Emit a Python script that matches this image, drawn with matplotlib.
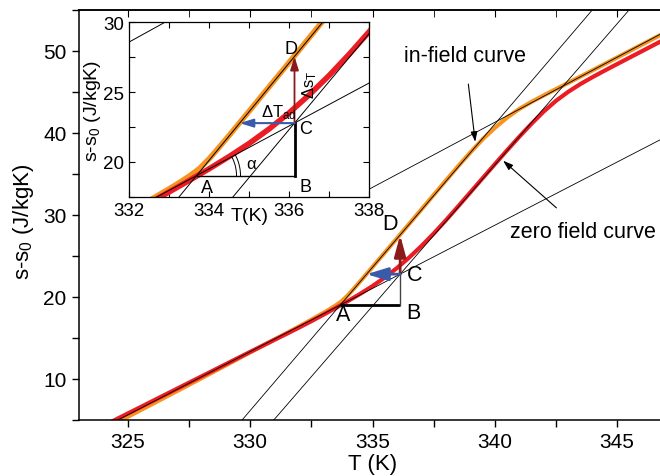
import matplotlib
matplotlib.use("Agg")
import matplotlib.pyplot as plt
import numpy as np
from matplotlib.ticker import MultipleLocator

plt.rcParams['font.family'] = ['Liberation Sans', 'DejaVu Sans']
plt.rcParams['mathtext.fontset'] = 'custom'
plt.rcParams['mathtext.rm'] = 'Liberation Sans'
plt.rcParams['mathtext.it'] = 'Liberation Sans:italic'
plt.rcParams['mathtext.default'] = 'regular'

# ---------------- data ----------------
T_zero = [324.0, 325.0, 326.0, 327.0, 328.0, 329.0, 330.0, 331.0, 331.5, 332.0,
          332.5, 333.0, 333.5, 334.0, 334.5, 335.0, 335.5, 336.0, 336.5, 337.0,
          337.5, 338.0, 338.5, 339.0, 339.5, 340.0, 340.5, 341.0, 341.5, 342.0,
          342.5, 343.0, 343.5, 344.0, 344.5, 345.0, 346.0, 347.0, 348.0]
s_zero = [4.3, 5.8, 7.3, 8.8, 10.3, 11.8, 13.3, 14.78, 15.52, 16.27,
          17.04, 17.84, 18.66, 19.5, 20.38, 21.32, 22.36, 23.52, 24.8, 26.2,
          27.72, 29.34, 31.03, 32.74, 34.46, 36.17, 37.86, 39.51, 41.1, 42.59,
          43.89, 44.99, 45.94, 46.79, 47.59, 48.37, 49.92, 51.47, 53.02]

T_field = [324.0, 325.0, 326.0, 327.0, 328.0, 329.0, 330.0, 331.0, 331.5, 332.0,
           332.5, 333.0, 333.25, 333.5, 333.75, 334.0, 334.25, 334.5, 334.75, 335.0,
           335.5, 336.0, 336.5, 337.0, 337.5, 338.0, 338.5, 339.0, 339.5, 340.0,
           340.5, 341.0, 341.5, 342.0, 342.5, 343.0, 344.0, 345.0, 346.0, 347.0,
           348.0]
s_field = [3.85, 5.4, 6.95, 8.51, 10.08, 11.66, 13.25, 14.82, 15.6, 16.4,
           17.22, 18.06, 18.5, 18.97, 19.5, 20.22, 21.05, 21.9, 22.77, 23.64,
           25.39, 27.14, 28.9, 30.66, 32.42, 34.18, 35.92, 37.6, 39.2, 40.6,
           41.85, 42.9, 43.77, 44.55, 45.32, 46.08, 47.62, 49.17, 50.72, 52.27,
           53.82]

# straight construction lines: (T0, s0, slope); first T drawn in main panel
line_T0 = [333.68, 336.13, 335.31, 333.68]
line_s0 = [19.0, 22.77, 33.84, 19.0]
line_slope = [3.49, 3.44, 1.586, 1.54]
line_Tstart_main = [318.0, 318.0, 334.9, 318.0]

# construction points A, B, C, D and arrow tip
A_T, A_s = 333.68, 19.0
C_T, C_s = 336.13, 22.77
B_T, B_s = C_T, A_s
D_T, D_s = C_T, 27.55
tip_T, tip_s = 334.76, C_s

main_xticks = [325, 330, 335, 340, 345]
main_yticks = [10, 20, 30, 40, 50]
inset_xticks = [332, 334, 336, 338]
inset_yticks = [20, 25, 30]

RED = '#EC1C24'
ORANGE = '#F7931E'
DARKRED = '#8B1A1A'
BLUE = '#3A5BAA'

W, H = 660, 477
fig = plt.figure(figsize=(W / 100, H / 100), dpi=100)

# ---------------- main axes ----------------
ax = fig.add_axes([79 / W, (H - 421) / H, (666 - 79) / W, (421 - 10.7) / H])
ax.set_xlim(323, 347)
ax.set_ylim(5, 55)


def draw_curves(a, lw_c, lw_l, starts):
    a.plot(T_field, s_field, color=ORANGE, lw=lw_c, zorder=2, solid_capstyle='butt')
    a.plot(T_zero, s_zero, color=RED, lw=lw_c, zorder=2.1, solid_capstyle='butt')
    for T0, s0, m, t1 in zip(line_T0, line_s0, line_slope, starts):
        Tl = np.array([t1, 350.0])
        a.plot(Tl, s0 + m * (Tl - T0), color='black', lw=lw_l, zorder=3)


draw_curves(ax, 3.0, 0.6, line_Tstart_main)

ax.plot([A_T, B_T], [A_s, B_s], color='black', lw=2.0, zorder=4, solid_capstyle='butt')
ax.plot([B_T, C_T], [B_s, C_s], color='#444444', lw=1.0, zorder=4)
ax.annotate('', xy=(D_T, D_s), xytext=(C_T, C_s),
            arrowprops=dict(arrowstyle='-|>,head_length=1.3,head_width=0.35', color=DARKRED,
                            lw=2.0, mutation_scale=10, shrinkA=0, shrinkB=0), zorder=5)
ax.annotate('', xy=(tip_T, tip_s), xytext=(C_T, C_s),
            arrowprops=dict(arrowstyle='-|>,head_length=1.3,head_width=0.4', color=BLUE,
                            lw=2.0, mutation_scale=10, shrinkA=0, shrinkB=0), zorder=5)

fs_pt = 15.5
ax.text(333.8, 17.9, 'A', fontsize=fs_pt, ha='center', va='center', zorder=6)
ax.text(336.67, 18.1, 'B', fontsize=fs_pt, ha='center', va='center', zorder=6)
ax.text(336.74, 22.7, 'C', fontsize=fs_pt, ha='center', va='center', zorder=6)
ax.text(335.72, 29.0, 'D', fontsize=fs_pt, ha='center', va='center', zorder=6)

ax.annotate('in-field curve', xy=(339.2, 38.9), xytext=(338.78, 49.4),
            fontsize=15.5, ha='center', va='center',
            arrowprops=dict(arrowstyle='-|>,head_length=0.6,head_width=0.2', color='black',
                            lw=0.8, mutation_scale=10, shrinkA=11, shrinkB=0))
ax.annotate('zero field curve', xy=(340.34, 36.6), xytext=(343.6, 28.0),
            fontsize=15.5, ha='center', va='center',
            arrowprops=dict(arrowstyle='-|>,head_length=0.6,head_width=0.2', color='black',
                            lw=0.8, mutation_scale=10, shrinkA=11, shrinkB=0))

ax.set_xticks(main_xticks)
ax.set_yticks(main_yticks)
ax.xaxis.set_minor_locator(MultipleLocator(2.5))
ax.yaxis.set_minor_locator(MultipleLocator(5))
ax.tick_params(axis='both', which='both', direction='out', length=5, width=1,
               labelsize=15, pad=4)
ax.spines['right'].set_visible(False)
for sp in ['left', 'bottom', 'top']:
    ax.spines[sp].set_linewidth(1.1)
sec = ax.secondary_xaxis('top')
sec.set_xticks(main_xticks)
sec.xaxis.set_minor_locator(MultipleLocator(2.5))
sec.tick_params(axis='x', which='both', direction='in', length=5, labeltop=False)
sec.spines['top'].set_linewidth(1.1)

ax.set_xlabel('T (K)', fontsize=16, labelpad=1)
ax.set_ylabel('s-s$_0$ (J/kgK)', fontsize=16)
ax.yaxis.set_label_coords(-0.073, 0.485)

# ---------------- inset ----------------
ax_in = fig.add_axes([129.3 / W, (H - 197.6) / H, 240 / W, 174.3 / H], zorder=5)
ax_in.set_facecolor('white')
ax_in.set_xlim(332, 338)
ax_in.set_ylim(17.5, 30)
draw_curves(ax_in, 4.0, 0.7, [318.0] * 4)

ax_in.plot([A_T, B_T], [A_s, B_s], color='black', lw=1.0, zorder=4)
ax_in.plot([B_T, C_T], [B_s, C_s], color='black', lw=2.0, zorder=4)
ax_in.annotate('', xy=(D_T, D_s), xytext=(C_T, C_s),
               arrowprops=dict(arrowstyle='-|>,head_length=0.8,head_width=0.25', color=DARKRED,
                               lw=1.3, mutation_scale=10, shrinkA=0, shrinkB=0), zorder=5)
ax_in.annotate('', xy=(tip_T, tip_s), xytext=(C_T, C_s),
               arrowprops=dict(arrowstyle='-|>,head_length=0.8,head_width=0.25', color=BLUE,
                               lw=1.5, mutation_scale=10, shrinkA=0, shrinkB=0), zorder=5)

# double arc for alpha
bb = ax_in.get_window_extent()
px_T = bb.width / 6.0
px_s = bb.height / 12.5
ang = np.arctan2((C_s - A_s) * px_s, (C_T - A_T) * px_T)
tt = np.linspace(0, ang, 40)
for r in (40, 44):
    ax_in.plot(A_T + r * np.cos(tt) / px_T, A_s + r * np.sin(tt) / px_s,
               color='black', lw=0.7, zorder=4)

fs_in = 13
ax_in.text(333.95, 18.15, 'A', fontsize=fs_in, ha='center', va='center', zorder=6)
ax_in.text(336.41, 18.2, 'B', fontsize=fs_in, ha='center', va='center', zorder=6)
ax_in.text(336.4, 22.35, 'C', fontsize=fs_in, ha='center', va='center', zorder=6)
ax_in.text(336.03, 28.1, 'D', fontsize=fs_in, ha='center', va='center', zorder=6)
ax_in.text(335.05, 19.85, 'α', fontsize=12, ha='center', va='center', zorder=6)
ax_in.text(335.3, 23.6, r'$\Delta$T$_{\rm ad}$', fontsize=12, ha='left', va='center', zorder=6)
ax_in.text(336.5, 25.6, r'$\Delta$s$_{\rm T}$', fontsize=12, ha='center', va='center',
           rotation=90, zorder=6)

ax_in.set_xticks(inset_xticks)
ax_in.set_yticks(inset_yticks)
ax_in.xaxis.set_minor_locator(MultipleLocator(1))
ax_in.yaxis.set_minor_locator(MultipleLocator(2.5))
ax_in.tick_params(axis='both', which='both', direction='in', length=4, width=0.8,
                  top=True, right=True, labelsize=13.5, pad=4)
for sp in ax_in.spines.values():
    sp.set_linewidth(0.9)
ax_in.set_xlabel('T(K)', fontsize=14)
ax_in.xaxis.set_label_coords(0.5, -0.06)
ax_in.set_ylabel('s-s$_0$ (J/kgK)', fontsize=14)
ax_in.yaxis.set_label_coords(-0.11, 0.5)

fig.savefig('out.png', dpi=100)
